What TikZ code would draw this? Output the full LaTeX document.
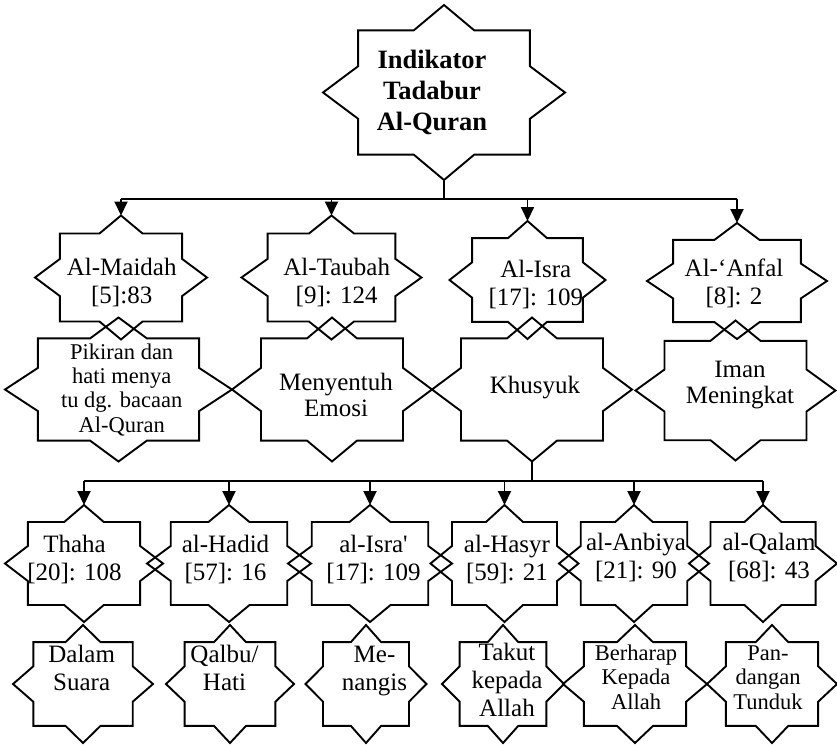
\documentclass[tikz,border=0pt]{standalone}
\usepackage{fontspec}
\setmainfont{Liberation Serif}
\usetikzlibrary{arrows.meta}

\tikzset{
  starnode/.style={rectangle, draw=none, inner sep=0pt, outer sep=0pt},
  starline/.style={line width=1.9pt, line join=miter},
  conn/.style={line width=1.9pt},
  arr/.style={-{Triangle[length=14pt,width=13pt]}},
  % labels are placed by the baseline of their last line
  lbl/.style={anchor=base, align=center, inner sep=0pt, font=\fontsize{25}{28}\selectfont},
  lbltight/.style={lbl, font=\fontsize{25}{26}\selectfont},
  lblsmall/.style={lbl, font=\fontsize{22.5}{24.3}\selectfont},
  lbltitle/.style={lbl, font=\fontsize{26.5}{31}\selectfont\bfseries},
}

% eight-pointed star outline: name, centre x, centre y, half width, half height
\newcommand\octbox[5]{%
  \node[starnode, minimum width=2*#4, minimum height=2*#5] (#1) at (#2,#3) {};
  \pgfmathsetmacro\sA{0.71*#4}\pgfmathsetmacro\sB{0.71*#5}%
  \pgfmathsetmacro\sq{0.25*#4}\pgfmathsetmacro\ss{0.30*#5}%
  \draw[starline, shift={(#2,#3)}]
    (0,-#5) -- (\sq,-\sB) -- (\sA,-\sB) -- (\sA,-\ss) -- (#4,0)
    -- (\sA,\ss) -- (\sA,\sB) -- (\sq,\sB) -- (0,#5)
    -- (-\sq,\sB) -- (-\sA,\sB) -- (-\sA,\ss) -- (-#4,0)
    -- (-\sA,-\ss) -- (-\sA,-\sB) -- (-\sq,-\sB) -- cycle;
}

\begin{document}
\begin{tikzpicture}[x=1pt,y=-1pt]
\useasboundingbox (0,0) rectangle (837,744);

% stars
\octbox{top}{444}{92.5}{121}{87.5}
\octbox{maidah}{121}{277.5}{86}{62}
\octbox{taubah}{331.5}{277.5}{90}{62}
\octbox{isra}{527.5}{280}{78}{59}
\octbox{anfal}{737}{281}{90}{58}
\octbox{pikiran}{118.5}{389.5}{113.5}{72}
\octbox{menyentuh}{332}{389.5}{100}{72}
\octbox{khusyuk}{532}{389.5}{100}{72}
\octbox{iman}{735.5}{390.5}{100}{70}
\octbox{thaha}{84}{563.5}{79}{58.5}
\octbox{hadid}{229}{563.5}{82}{58.5}
\octbox{israb}{370}{563.5}{82}{58.5}
\octbox{hasyr}{504.5}{563.5}{74}{58.5}
\octbox{anbiya}{634}{563.5}{75}{58.5}
\octbox{qalam}{763}{563.5}{74}{58.5}
\octbox{dalam}{83}{684}{70}{59}
\octbox{qalbu}{230}{684}{64}{59}
\octbox{menangis}{366}{684}{60.5}{59}
\octbox{takut}{503}{684}{61}{59}
\octbox{berharap}{635}{684}{72}{59}
\octbox{pandangan}{772}{684}{65}{59}

% labels
\node[lbltitle] (top-t) at (432,130.3) {Indikator\\Tadabur\\Al-Quran};
\node[lbl] (maidah-t) at (121.7,303) {Al-Maidah\\{}[5]:83};
\node[lbl] (taubah-t) at (336.7,303) {Al-Taubah\\{}[9]: 124};
\node[lbl] (isra-t) at (535.8,305) {Al-Isra\\{}[17]: 109};
\node[lbl] (anfal-t) at (734,304) {Al-‘Anfal\\{}[8]: 2};
\node[lblsmall] (pikiran-t) at (121.7,432) {Pikiran dan\\hati menya\\tu dg. bacaan\\Al-Quran};
\node[lbltight] (menyentuh-t) at (336,416) {Menyentuh\\Emosi};
\node[lbl] (khusyuk-t) at (535,393) {Khusyuk};
\node[lbltight] (iman-t) at (740,403) {Iman\\Meningkat};
\node[lbl] (thaha-t) at (74.5,580) {Thaha\\{}[20]: 108};
\node[lbl] (hadid-t) at (225.5,580) {al-Hadid\\{}[57]: 16};
\node[lbl] (israb-t) at (373.5,580) {al-Isra\textquotesingle\\{}[17]: 109};
\node[lbl] (hasyr-t) at (507,580) {al-Hasyr\\{}[59]: 21};
\node[lbl] (anbiya-t) at (636,578.5) {al-Anbiya\\{}[21]: 90};
\node[lbl] (qalam-t) at (769,578.5) {al-Qalam\\{}[68]: 43};
\node[lbl] (dalam-t) at (81.7,690.7) {Dalam\\Suara};
\node[lbl] (qalbu-t) at (224.5,690.7) {Qalbu/\\Hati};
\node[lbl] (menangis-t) at (374.5,690.7) {Me-\\nangis};
\node[lbl] (takut-t) at (507,716.7) {Takut\\kepada\\Allah};
\node[lblsmall] (berharap-t) at (636,709) {Berharap\\Kepada\\Allah};
\node[lblsmall] (pandangan-t) at (768,709) {Pan-\\dangan\\Tunduk};

% connectors: title to the four verses
\coordinate (busA) at (0,199);
\draw[conn] (top.south) -- (top.south |- busA);
\draw[conn] (maidah.north |- busA) -- (anfal.north |- busA);
\foreach \n in {maidah,taubah,isra,anfal}
  \draw[conn,arr] (\n.north |- busA) -- (\n.north);

% connectors: Khusyuk to the six verses
\coordinate (busB) at (0,481);
\draw[conn] (khusyuk.south) -- (khusyuk.south |- busB);
\draw[conn] (thaha.north |- busB) -- (qalam.north |- busB);
\foreach \n in {thaha,hadid,israb,hasyr,anbiya,qalam}
  \draw[conn,arr] (\n.north |- busB) -- (\n.north);
\end{tikzpicture}
\end{document}
